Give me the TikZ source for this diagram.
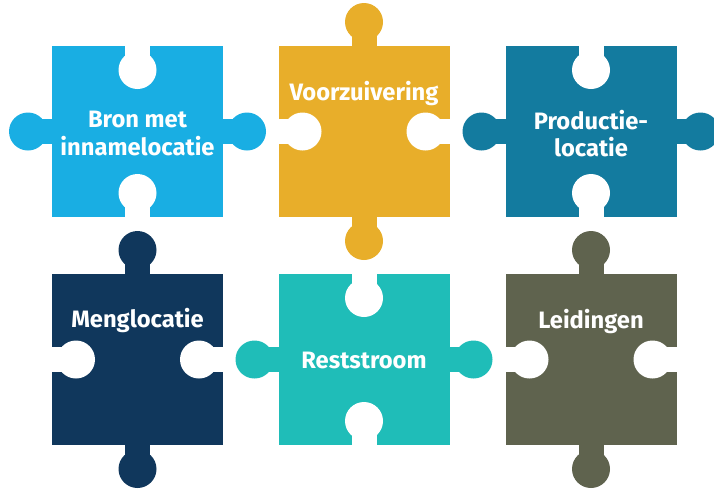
\documentclass[tikz,border=0pt]{standalone}
\usepackage{fontspec}
\setmainfont{Fira Sans}
\definecolor{bronblue}{HTML}{19AEE3}
\definecolor{voorgold}{HTML}{E8AE2A}
\definecolor{prodteal}{HTML}{137B9F}
\definecolor{mengnavy}{HTML}{10375C}
\definecolor{restturq}{HTML}{1FBDB8}
\definecolor{leidgreen}{HTML}{5F634E}

\begin{document}
\begin{tikzpicture}[x=0.75pt,y=0.75pt]
  \tikzstyle{every node}+=[inner sep=0pt]
  \tikzstyle{hole}=[fill=white]
  \tikzstyle{piecetext}=[text=white, font=\bfseries\fontsize{17.8}{20.3}\selectfont, align=center]
  \useasboundingbox (0,0) rectangle (714,-490);
  % bron met innamelocatie
  \begin{scope}[shift={(137.5,-131.5)}]
  \fill [bronblue] (-85.5,-85.5) rectangle (85.5,85.5);
  \fill [bronblue] (-98,-12.5) rectangle (-85,12.5);
  \fill [bronblue] (-109.5,0) circle (19);
  \fill [bronblue] (85,-12.5) rectangle (98,12.5);
  \fill [bronblue] (109.5,0) circle (19);
  \fill [hole] (-12.5,74) rectangle (12.5,86);
  \fill [hole] (0,61.5) circle (19);
  \fill [hole] (-12.5,-86) rectangle (12.5,-74);
  \fill [hole] (0,-61.5) circle (19);
  \draw (0,-2) node [piecetext] (bron) {Bron met\\innamelocatie};
  \end{scope}
  % voorzuivering
  \begin{scope}[shift={(364,-131.5)}]
  \fill [voorgold] (-85.5,-85.5) rectangle (85.5,85.5);
  \fill [voorgold] (-12.5,85) rectangle (12.5,98);
  \fill [voorgold] (0,109.5) circle (19);
  \fill [voorgold] (-12.5,-98) rectangle (12.5,-85);
  \fill [voorgold] (0,-109.5) circle (19);
  \fill [hole] (-86,-12.5) rectangle (-74,12.5);
  \fill [hole] (-61.5,0) circle (19);
  \fill [hole] (74,-12.5) rectangle (86,12.5);
  \fill [hole] (61.5,0) circle (19);
  \draw (0,31.5) node [piecetext, anchor=base] (voor) {Voorzuivering};
  \end{scope}
  % productielocatie
  \begin{scope}[shift={(591,-131.5)}]
  \fill [prodteal] (-85.5,-85.5) rectangle (85.5,85.5);
  \fill [prodteal] (-98,-12.5) rectangle (-85,12.5);
  \fill [prodteal] (-109.5,0) circle (19);
  \fill [prodteal] (85,-12.5) rectangle (98,12.5);
  \fill [prodteal] (109.5,0) circle (19);
  \fill [hole] (-12.5,74) rectangle (12.5,86);
  \fill [hole] (0,61.5) circle (19);
  \fill [hole] (-12.5,-86) rectangle (12.5,-74);
  \fill [hole] (0,-61.5) circle (19);
  \draw (0,-2) node [piecetext] (prod) {Productie-\\locatie};
  \end{scope}
  % menglocatie
  \begin{scope}[shift={(137.5,-359.5)}]
  \fill [mengnavy] (-85.5,-85.5) rectangle (85.5,85.5);
  \fill [mengnavy] (-12.5,85) rectangle (12.5,98);
  \fill [mengnavy] (0,109.5) circle (19);
  \fill [mengnavy] (-12.5,-98) rectangle (12.5,-85);
  \fill [mengnavy] (0,-109.5) circle (19);
  \fill [hole] (-86,-12.5) rectangle (-74,12.5);
  \fill [hole] (-61.5,0) circle (19);
  \fill [hole] (74,-12.5) rectangle (86,12.5);
  \fill [hole] (61.5,0) circle (19);
  \draw (0,32) node [piecetext, anchor=base] (meng) {Menglocatie};
  \end{scope}
  % reststroom
  \begin{scope}[shift={(364,-359.5)}]
  \fill [restturq] (-85.5,-85.5) rectangle (85.5,85.5);
  \fill [restturq] (-98,-12.5) rectangle (-85,12.5);
  \fill [restturq] (-109.5,0) circle (19);
  \fill [restturq] (85,-12.5) rectangle (98,12.5);
  \fill [restturq] (109.5,0) circle (19);
  \fill [hole] (-12.5,74) rectangle (12.5,86);
  \fill [hole] (0,61.5) circle (19);
  \fill [hole] (-12.5,-86) rectangle (12.5,-74);
  \fill [hole] (0,-61.5) circle (19);
  \draw (0,-8.5) node [piecetext, anchor=base] (rest) {Reststroom};
  \end{scope}
  % leidingen
  \begin{scope}[shift={(591,-359.5)}]
  \fill [leidgreen] (-85.5,-85.5) rectangle (85.5,85.5);
  \fill [leidgreen] (-12.5,85) rectangle (12.5,98);
  \fill [leidgreen] (0,109.5) circle (19);
  \fill [leidgreen] (-12.5,-98) rectangle (12.5,-85);
  \fill [leidgreen] (0,-109.5) circle (19);
  \fill [hole] (-86,-12.5) rectangle (-74,12.5);
  \fill [hole] (-61.5,0) circle (19);
  \fill [hole] (74,-12.5) rectangle (86,12.5);
  \fill [hole] (61.5,0) circle (19);
  \draw (0,31.5) node [piecetext, anchor=base] (leid) {Leidingen};
  \end{scope}
\end{tikzpicture}
\end{document}
